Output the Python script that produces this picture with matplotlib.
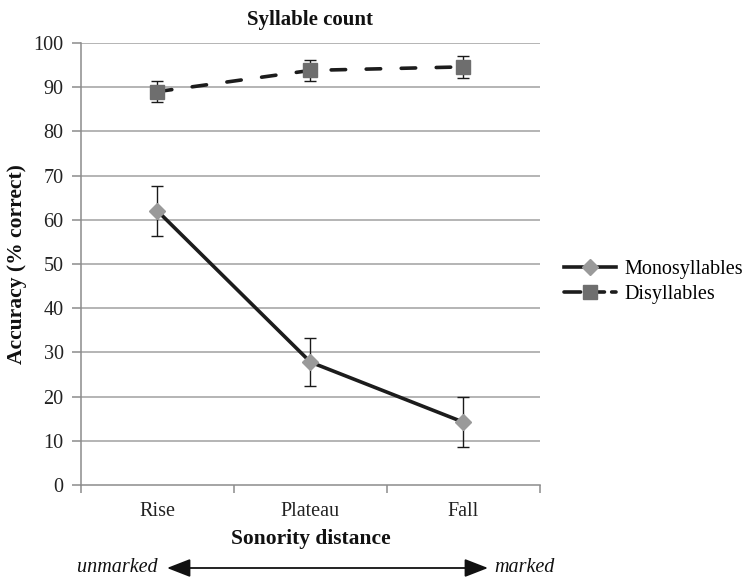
import matplotlib
matplotlib.use("Agg")
import matplotlib.pyplot as plt
from matplotlib.lines import Line2D
from matplotlib.patches import FancyArrowPatch

plt.rcParams['font.family'] = ['Liberation Serif', 'DejaVu Serif']

categories = ["Rise", "Plateau", "Fall"]
mono_vals = [62.0, 27.8, 14.2]
mono_err = [5.6, 5.4, 5.6]
di_vals = [89.0, 93.8, 94.6]
di_err = [2.3, 2.3, 2.5]
yticks = list(range(0, 101, 10))

fig = plt.figure(figsize=(7.56, 5.85), dpi=100)
ax = fig.add_axes([81 / 756, 100 / 585, (540 - 81) / 756, (485 - 43) / 585])

x = list(range(len(categories)))
fs = 14.5
dark = '#1c1c1c'

# horizontal grid
for v in yticks[1:]:
    ax.axhline(v, color='#a0a0a0', lw=1.1, zorder=0)

ax.errorbar(x, di_vals, yerr=di_err, fmt='none', ecolor='#1a1a1a', elinewidth=1.0,
            capsize=4.5, capthick=1.0, zorder=2)
ax.errorbar(x, mono_vals, yerr=mono_err, fmt='none', ecolor='#1a1a1a', elinewidth=1.0,
            capsize=4.5, capthick=1.0, zorder=2)

ax.plot(x, mono_vals, color=dark, lw=2.6, solid_capstyle='round', zorder=3)
ax.plot(x, mono_vals, ls='none', marker='D', ms=8.5, mfc='#9a9a9a', mec='#9a9a9a', zorder=4)
ax.plot(x, di_vals, color=dark, lw=2.6, ls=(0, (4.0, 5.7)), dash_capstyle='round', zorder=3)
ax.plot(x, di_vals, ls='none', marker='s', ms=9.5, mfc='#6e6e6e', mec='#6e6e6e', zorder=4)

ax.set_xlim(-0.5, 2.5)
ax.set_ylim(0, 100)
ax.set_yticks(yticks)
ax.set_yticklabels([str(v) for v in yticks], fontsize=fs, color='#222222')
ax.set_xticks(x)
ax.set_xticklabels(categories, fontsize=fs, color='#222222')
ax.tick_params(axis='x', length=0, pad=12)
ax.tick_params(axis='y', length=6.5, width=1.1, color='#8c8c8c', pad=6)
ax.set_xticks([-0.5, 0.5, 1.5, 2.5], minor=True)
ax.tick_params(axis='x', which='minor', length=6, width=1.1, color='#8c8c8c')

for s in ['top', 'right']:
    ax.spines[s].set_visible(False)
for s in ['left', 'bottom']:
    ax.spines[s].set_color('#8c8c8c')
    ax.spines[s].set_linewidth(1.1)

ax.set_title("Syllable count", fontsize=15, fontweight='bold', pad=13, color='#111111')
ax.set_ylabel("Accuracy (% correct)", fontsize=15.5, fontweight='bold', labelpad=5, color='#111111')
ax.set_xlabel("Sonority distance", fontsize=15.5, fontweight='bold', labelpad=6, color='#111111')

handles = [
    Line2D([0], [0], color=dark, lw=2.6, marker='D', ms=8, mfc='#9a9a9a', mec='#9a9a9a'),
    Line2D([0], [0], color=dark, lw=2.6, ls=(0, (4.6, 2.0)), dash_capstyle='round',
           marker='s', ms=9.5, mfc='#6e6e6e', mec='#6e6e6e'),
]
fig.legend(handles, ["Monosyllables", "Disyllables"], loc='upper left',
           bbox_to_anchor=(556 / 756, 1 - 252 / 585), frameon=False,
           fontsize=fs, handlelength=2.6, handletextpad=0.4, labelspacing=0.3,
           borderaxespad=0)

# markedness arrow beneath the x axis
row_y = 1 - 568 / 585
fig.text(158 / 756, row_y, "unmarked", fontsize=fs, style='italic',
         ha='right', va='center', color='#111111')
fig.text(494 / 756, row_y, "marked", fontsize=fs, style='italic',
         ha='left', va='center', color='#111111')
fig.add_artist(FancyArrowPatch(
    (167 / 756, row_y), (488 / 756, row_y),
    transform=fig.transFigure, arrowstyle='<|-|>,head_length=0.9,head_width=0.35',
    mutation_scale=16, shrinkA=0, shrinkB=0, color='#111111', lw=1.3))

fig.savefig("out.png", dpi=100)
